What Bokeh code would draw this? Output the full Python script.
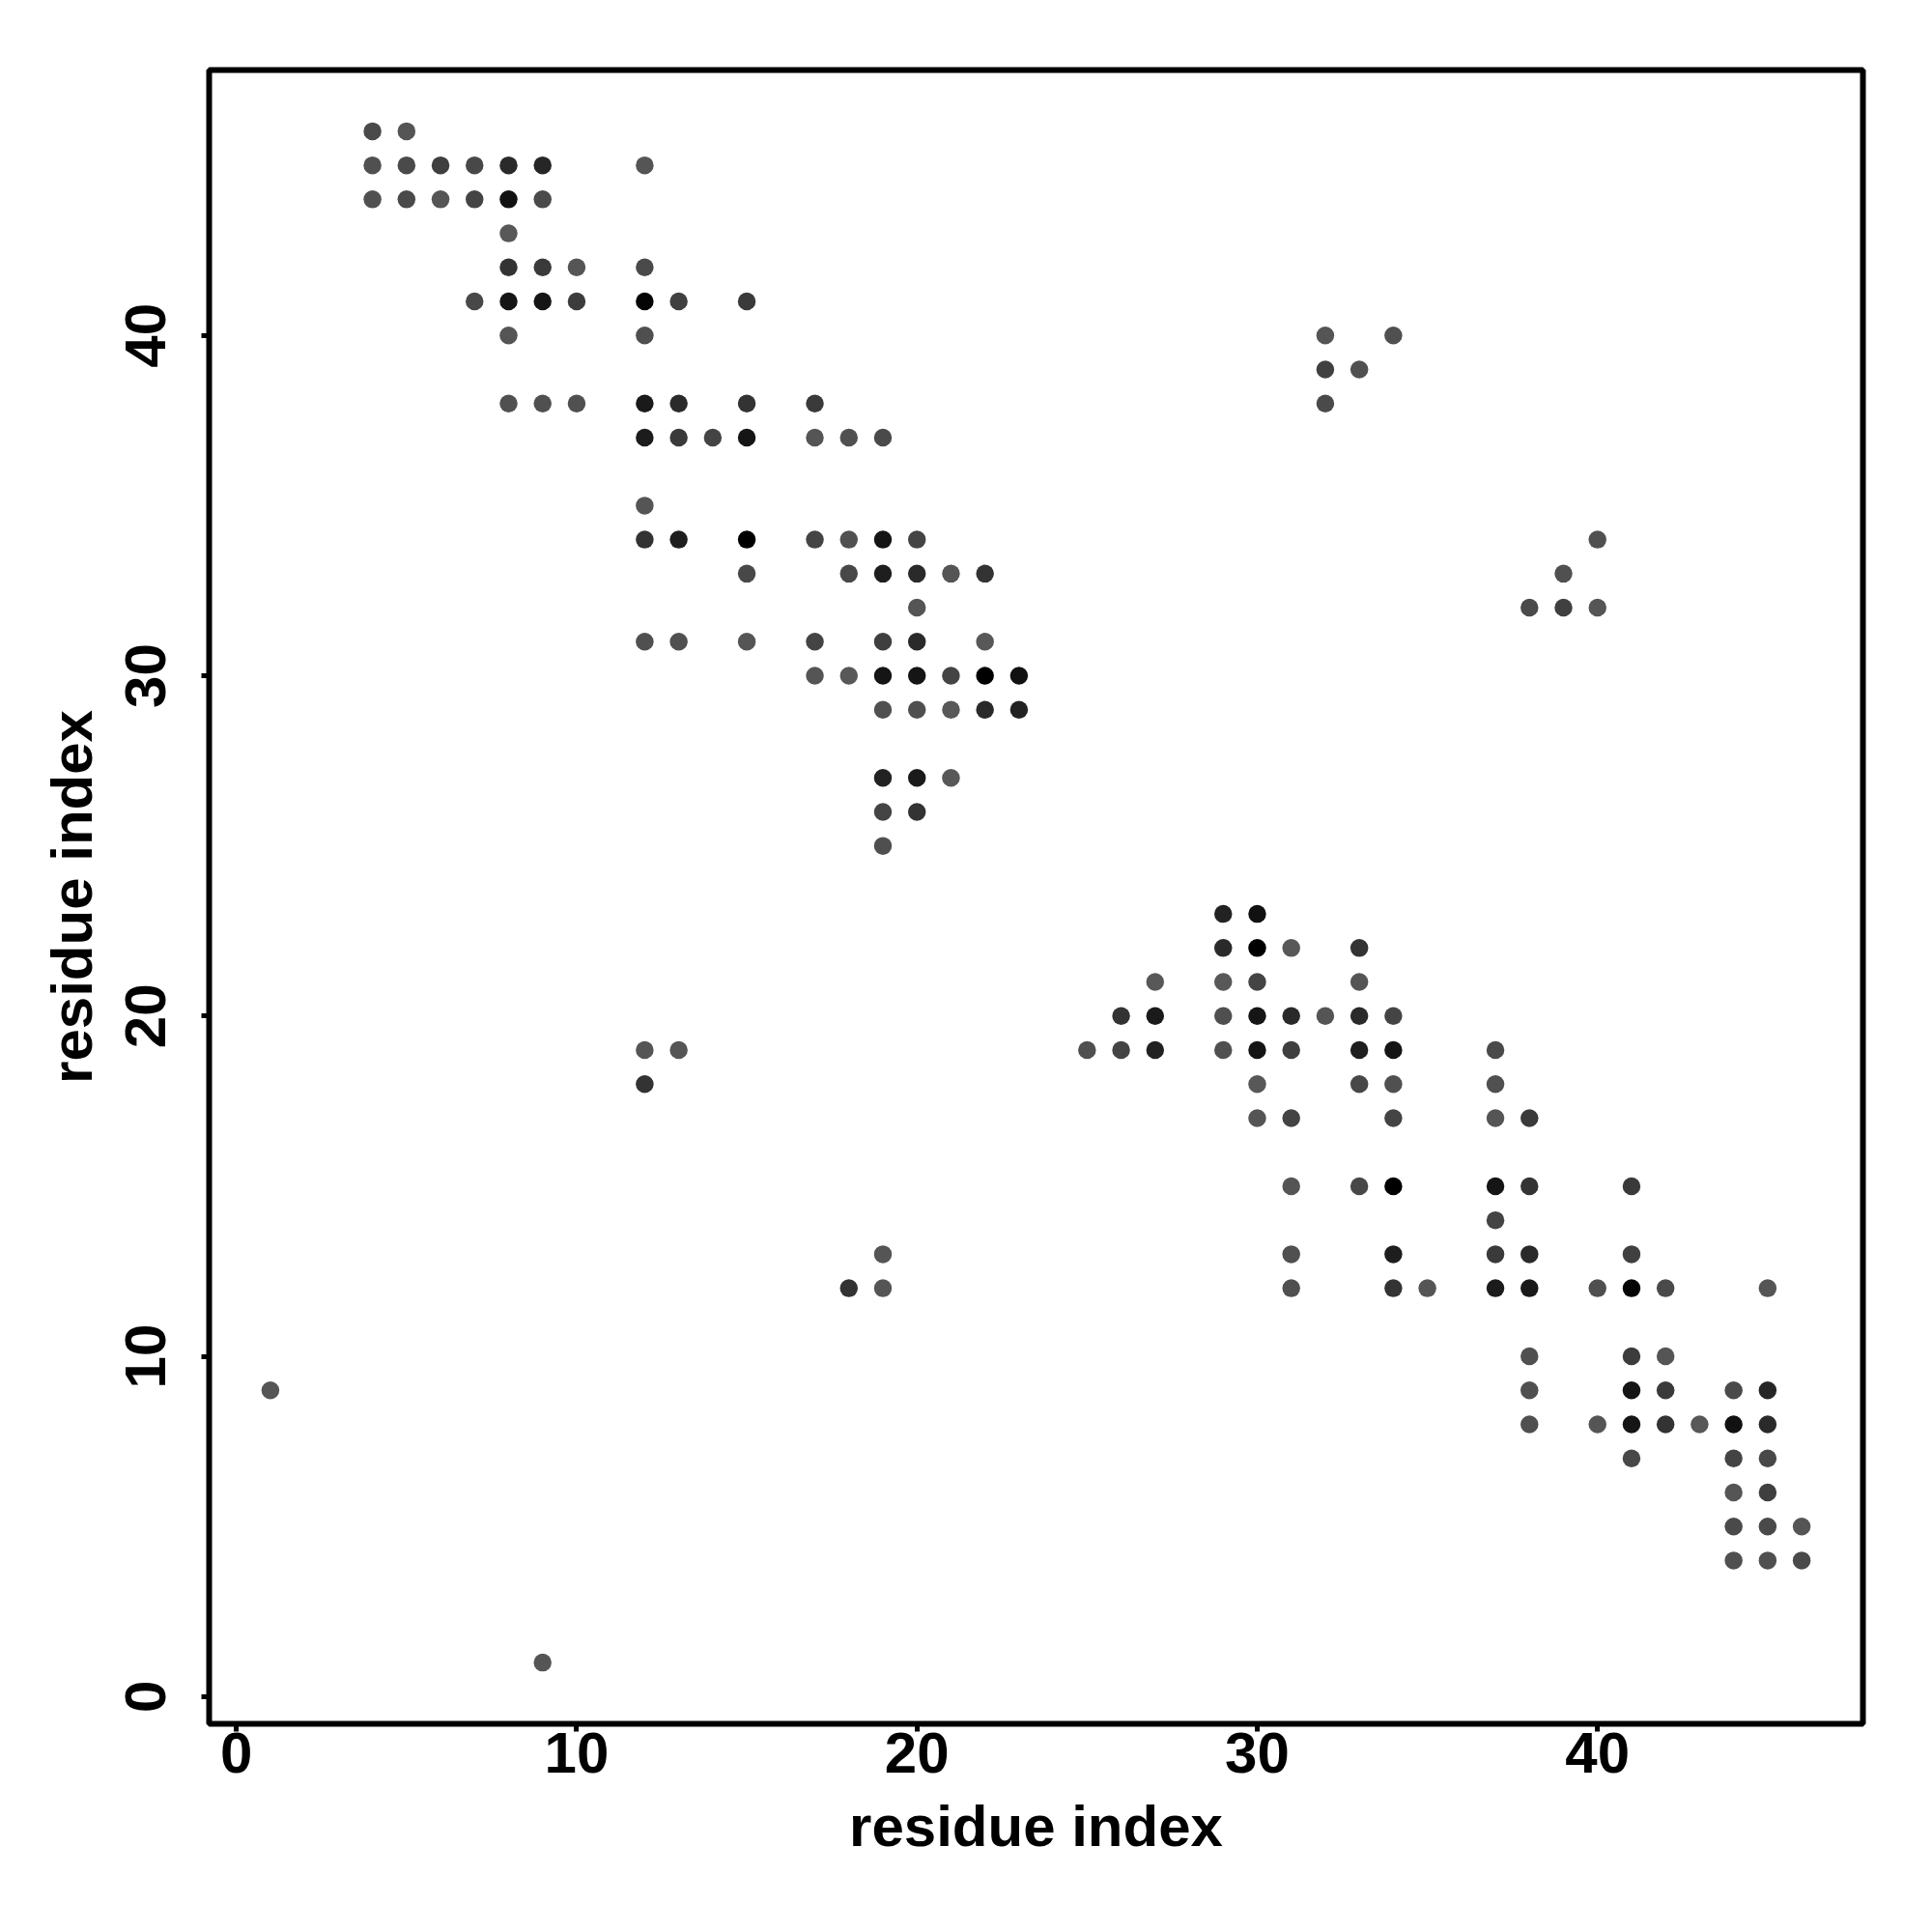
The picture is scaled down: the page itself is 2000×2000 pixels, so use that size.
from bokeh.plotting import figure
from bokeh.models import ColumnDataSource, Range1d, FixedTicker
from bokeh.embed import file_html
from bokeh.resources import INLINE

# Contact map (upper triangle, residue_j > residue_i); the map is symmetric.
res_i = [4, 5,
         4, 5, 6, 7, 8, 9, 12,
         4, 5, 6, 7, 8, 9,
         8,
         8, 9, 10, 12,
         7, 8, 9, 10, 12, 13, 15,
         8, 12, 32, 34,
         32, 33,
         8, 9, 10, 12, 13, 15, 17, 32,
         12, 13, 14, 15, 17, 18, 19,
         12,
         12, 13, 15, 17, 18, 19, 20,
         15, 18, 19, 20, 21, 22,
         20,
         12, 13, 15, 17, 19, 20, 22,
         17, 18, 19, 20, 21, 22, 23,
         19, 20, 21, 22, 23,
         19, 20, 21,
         19, 20,
         19,
         12, 13,
         12,
         1]
res_j = [46, 46,
         45, 45, 45, 45, 45, 45, 45,
         44, 44, 44, 44, 44, 44,
         43,
         42, 42, 42, 42,
         41, 41, 41, 41, 41, 41, 41,
         40, 40, 40, 40,
         39, 39,
         38, 38, 38, 38, 38, 38, 38, 38,
         37, 37, 37, 37, 37, 37, 37,
         35,
         34, 34, 34, 34, 34, 34, 34,
         33, 33, 33, 33, 33, 33,
         32,
         31, 31, 31, 31, 31, 31, 31,
         30, 30, 30, 30, 30, 30, 30,
         29, 29, 29, 29, 29,
         27, 27, 27,
         26, 26,
         25,
         19, 19,
         18,
         9]
score = [0.18, 0.06,
         0.11, 0.18, 0.30, 0.20, 0.53, 0.58, 0.06,
         0.11, 0.18, 0.06, 0.24, 0.81, 0.18,
         0.02,
         0.43, 0.36, 0.06, 0.18,
         0.20, 0.77, 0.77, 0.33, 0.94, 0.29, 0.36,
         0.06, 0.12, 0.06, 0.11,
         0.29, 0.11,
         0.11, 0.11, 0.11, 0.71, 0.53, 0.43, 0.36, 0.18,
         0.69, 0.36, 0.24, 0.77, 0.06, 0.11, 0.18,
         0.06,
         0.43, 0.67, 1.00, 0.24, 0.11, 0.77, 0.24,
         0.20, 0.20, 0.67, 0.53, 0.06, 0.43,
         0.06,
         0.11, 0.11, 0.06, 0.24, 0.30, 0.53, 0.02,
         0.06, 0.02, 0.77, 0.77, 0.24, 1.00, 0.81,
         0.11, 0.12, 0.02, 0.53, 0.62,
         0.62, 0.71, 0.02,
         0.24, 0.43,
         0.12,
         0.06, 0.06,
         0.43,
         0.06]

x_ticks = [0, 10, 20, 30, 40]
y_ticks = [0, 10, 20, 30, 40]
axis_title = "residue index"

# full symmetric map
xs = res_i + res_j
ys = res_j + res_i
ss = score + score


def grey(s):
    g = int(round(90 * (1 - s)))
    return "#%02x%02x%02x" % (g, g, g)


colors = [grey(s) for s in ss]
src = ColumnDataSource(dict(x=xs, y=ys, c=colors))

p = figure(frame_width=1712, frame_height=1712,
           x_range=Range1d(-0.8, 47.8), y_range=Range1d(-0.8, 47.8),
           output_backend="svg", toolbar_location=None,
           min_border_left=216, min_border_right=64,
           min_border_top=72, min_border_bottom=208,
           background_fill_color="white", border_fill_color="white")

p.scatter("x", "y", source=src, size=18.5, fill_color="c", line_color=None)

p.grid.visible = False
p.outline_line_color = "black"
p.outline_line_width = 6

for ax, ticks in ((p.xaxis, x_ticks), (p.yaxis, y_ticks)):
    ax.ticker = FixedTicker(ticks=ticks)
    ax.axis_line_color = None
    ax.minor_tick_line_color = None
    ax.major_tick_in = 0
    ax.major_tick_out = 8
    ax.major_tick_line_width = 5
    ax.major_tick_line_color = "black"
    ax.major_label_text_font = "Liberation Sans"
    ax.major_label_text_font_style = "bold"
    ax.major_label_text_font_size = "60px"
    ax.major_label_text_color = "black"
    ax.axis_label = axis_title
    ax.axis_label_text_font = "Liberation Sans"
    ax.axis_label_text_font_style = "bold"
    ax.axis_label_text_font_size = "60px"
    ax.axis_label_text_color = "black"

p.xaxis.major_label_standoff = 1
p.xaxis.axis_label_standoff = 19
p.yaxis.major_label_standoff = 37
p.yaxis.axis_label_standoff = 20
p.yaxis.major_label_orientation = "parallel"

open("out.html", "w").write(file_html(p, INLINE))
